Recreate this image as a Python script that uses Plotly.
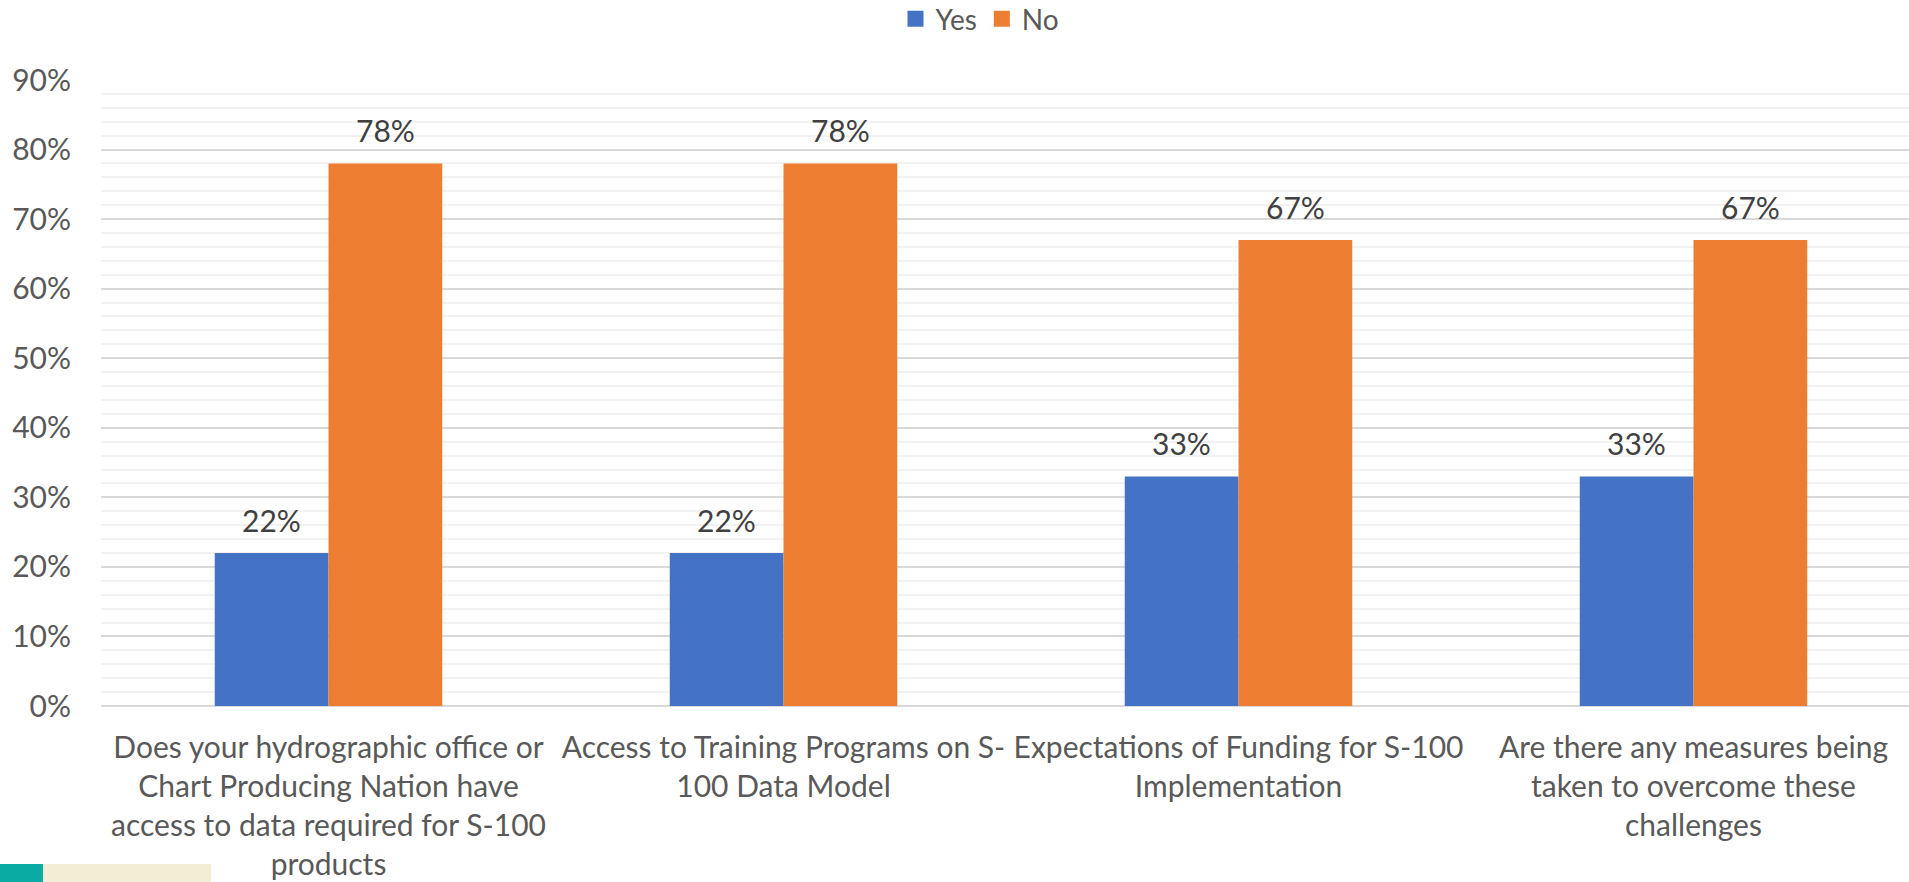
import plotly.graph_objects as go

categories = [
    "Does your hydrographic office or<br>Chart Producing Nation have<br>access to data required for S-100<br>products",
    "Access to Training Programs on S-<br>100 Data Model",
    "Expectations of Funding for S-100<br>Implementation",
    "Are there any measures being<br>taken to overcome these<br>challenges",
]
yes_values = [0.22, 0.22, 0.33, 0.33]
no_values = [0.78, 0.78, 0.67, 0.67]
series_names = ["Yes", "No"]
series_colors = ["#4472C4", "#ED7D31"]

FONT = "Lato, 'Open Sans', sans-serif"
TEXT_COLOR = "#595959"
LABEL_COLOR = "#404040"
FS = 30
BARGAP = 0.5

W, H = 1909, 882
ML, MT = 101, 80
PLOT_BOTTOM = 706
MB = H - PLOT_BOTTOM
PW = W - ML
PH = PLOT_BOTTOM - MT

fig = go.Figure()
for name, vals, col in zip(series_names, [yes_values, no_values], series_colors):
    fig.add_trace(go.Bar(x=categories, y=vals, name=name, marker=dict(color=col, line=dict(width=0)),
                         showlegend=False))
for name, col in zip(series_names, series_colors):
    fig.add_trace(go.Scatter(x=[None], y=[None], mode="markers", name=name,
                             marker=dict(symbol="square", size=18, color=col)))

nser = len(series_names)
bw = (1 - BARGAP) / nser
for s, vals in enumerate([yes_values, no_values]):
    off = -0.5 * (1 - BARGAP) + bw * (s + 0.5)
    for i, v in enumerate(vals):
        fig.add_annotation(x=i + off, y=v, xref="x", yref="y", text=f"{round(v*100)}%",
                           showarrow=False, yanchor="middle", yshift=33,
                           font=dict(family=FONT, size=FS, color=LABEL_COLOR))

fig.update_layout(
    width=W, height=H,
    margin=dict(l=ML, r=0, t=MT, b=MB, pad=0),
    paper_bgcolor="white", plot_bgcolor="white",
    barmode="group", bargap=BARGAP, bargroupgap=0,
    font=dict(family=FONT, size=FS, color=TEXT_COLOR),
    legend=dict(orientation="h", xref="container", yref="container", x=980 / W,
                y=1 - 19 / H, xanchor="center", yanchor="middle",
                font=dict(size=28, color=TEXT_COLOR), itemwidth=30, tracegroupgap=0),
    xaxis=dict(type="category", range=[-0.5, -0.5 + PW / 455], showgrid=False,
               zeroline=False, showline=False, ticks="", tickangle=0,
               tickfont=dict(size=FS, color=TEXT_COLOR), ticklabelstandoff=21),
    yaxis=dict(range=[0, 0.9], dtick=0.1, tickformat=".0%", showgrid=True, gridcolor="#D9D9D9",
               gridwidth=1.5, zeroline=True, zerolinecolor="#D9D9D9", zerolinewidth=1.5,
               showline=False, ticks="", tickfont=dict(size=FS, color=TEXT_COLOR),
               ticklabelstandoff=29,
               minor=dict(dtick=0.02, showgrid=True, gridcolor="#F2F2F2", gridwidth=1.5)),
    shapes=[
        dict(type="rect", xref="paper", yref="paper", x0=-ML / PW, x1=(43 - ML) / PW,
             y0=-MB / PH, y1=-(864 - PLOT_BOTTOM) / PH, fillcolor="#0AABA2", line=dict(width=0),
             layer="above"),
        dict(type="rect", xref="paper", yref="paper", x0=(43 - ML) / PW, x1=(211 - ML) / PW,
             y0=-MB / PH, y1=-(864 - PLOT_BOTTOM) / PH, fillcolor="#F4EDD6", line=dict(width=0),
             layer="below"),
    ],
)

fig.write_html("out.html", config={"displayModeBar": False},
               post_script="document.body.style.margin='0';")
